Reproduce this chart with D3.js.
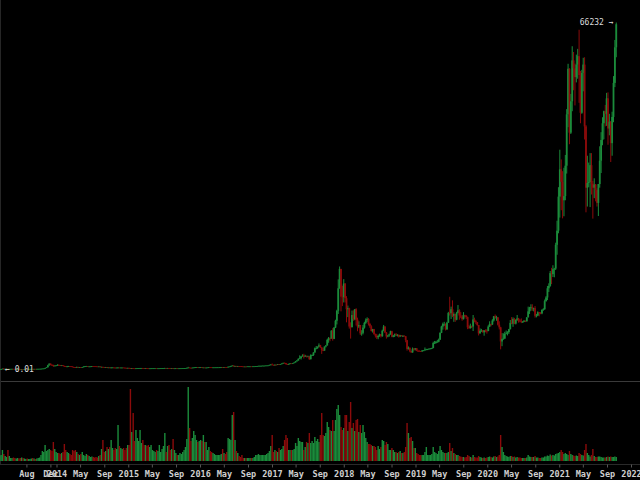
<!DOCTYPE html>
<html><head><meta charset="utf-8">
<script src="https://cdn.jsdelivr.net/npm/d3@7"></script>
<style>html,body{margin:0;padding:0;background:#000;overflow:hidden}</style>
</head><body>
<svg id="c" width="640" height="480"></svg>
<script>
// Weekly candles, first week starting Monday 2013-03-18
const firstWeek = "2013-03-18";
const opens = [
47,72,94,162,90,119,128,112,115,122,133,122,100,100,108,94,77,98,90,96,105,102,110,122,127,122,127,126,131,135,139,155,185,205,300,420,800,1120,880,870,660,740,
790,860,825,810,810,690,620,580,600,630,620,570,460,450,410,490,440,450,430,440,575,630,650,590,590,600,630,625,620,595,585,590,500,505,480,475,475,400,400,330,380,390,355,325,365,380,370,375,375,350,320,315,
315,270,210,250,230,225,235,245,275,275,280,260,250,255,235,220,225,235,240,240,240,230,232,235,245,250,270,292,275,290,285,262,265,230,230,240,230,231,235,240,245,270,285,325,380,335,325,360,395,435,440,420,
430,448,385,390,375,375,400,435,430,410,410,410,415,420,420,430,460,450,460,455,440,530,580,680,760,660,680,650,665,655,625,590,570,580,575,605,605,605,600,615,615,640,655,700,705,705,735,735,765,775,790,890,
960,900,820,920,915,1010,1000,1050,1150,1270,1230,1020,960,1080,1180,1170,1240,1350,1550,1720,2050,2200,2500,2650,2500,2600,2500,2500,1950,2750,2750,3250,4050,4080,4350,4630,4200,3700,3600,4380,4600,5650,6000,5900,7400,5850,8000,9300,11200,15500,19200,13900,
13800,16400,13600,11500,11700,8200,8100,10400,9600,11500,9500,8200,8500,6900,7000,8000,8900,9400,9650,8700,8250,7350,7700,6750,6450,6150,6400,6750,6350,7400,8200,7050,6300,6500,6700,7300,6250,6500,6700,6600,6600,6300,6500,6400,6450,6350,5600,3950,4150,3550,3250,3950,
3850,4050,3550,3540,3530,3450,3650,3650,3800,3850,3900,4000,4000,4100,5050,5070,5300,5300,5700,7000,8200,8700,8700,7650,8950,10800,10750,11500,10250,10600,9500,10800,11300,10300,10100,9600,10400,10300,10000,8050,7900,8300,8200,9550,9200,9050,8500,6900,7400,7500,7100,7500,
7400,7350,8200,8700,8600,9350,10150,9900,9950,8550,8050,5350,5850,5900,6800,6900,7150,7700,8900,8750,9650,8750,9450,9750,9350,9300,9100,9100,9300,9200,9950,11100,11700,11900,11650,11700,10250,10300,10950,10750,10700,11400,11500,13050,13750,15500,15950,18400,18200,19150,19250,23800,26500,
33000,38200,35800,32300,33100,38900,48700,57400,45200,51200,59000,57500,55800,58200,59800,56200,49000,56600,58200,46400,34700,35600,35800,39000,35500,34700,35300,34250,31800,35400,39850,43800,47000,49300,48800,51750,46000,47300,43200,48200,54700,61500
];
const highs = [
78,95,170,266,125,135,130,120,125,135,135,125,110,110,112,108,100,100,98,108,108,112,125,128,130,128,130,133,138,140,158,190,215,300,440,900,1165,1150,1010,900,760,800,
1000,1000,870,850,840,720,670,680,680,650,640,590,490,480,540,510,460,460,450,590,640,680,670,620,620,660,640,630,630,600,600,595,530,520,490,485,480,420,420,420,420,420,400,370,455,395,390,385,380,355,335,335,
320,290,275,265,245,245,265,275,300,295,300,270,265,260,240,240,245,245,245,245,245,235,240,255,255,275,315,295,300,300,290,270,270,240,245,245,235,240,245,250,272,290,335,500,390,340,370,400,470,470,445,440,
460,455,395,410,390,405,445,445,440,420,420,420,425,425,435,465,465,465,465,460,540,590,700,780,770,700,690,680,670,660,630,600,595,590,610,615,610,610,620,620,645,660,710,740,740,760,750,770,780,800,900,980,
1150,920,930,935,1015,1050,1060,1160,1290,1330,1260,1080,1100,1200,1210,1250,1355,1620,1800,2100,2700,2550,2900,3000,2800,2650,2650,2550,2900,2850,3300,4200,4480,4400,4980,4700,4300,4100,4400,4650,5850,6200,6100,7500,7900,8100,9500,11400,17200,19666,19200,16000,
17250,16500,14000,12200,11800,9000,11250,11300,11500,11700,9900,9200,8500,7500,8500,9100,9750,9950,9800,8900,8450,7750,7750,6850,6800,6550,6850,6780,7600,8500,8250,7150,6550,6850,7400,7400,6550,6850,6950,6750,6700,6600,6550,6500,6500,6400,5650,4400,4200,3600,4200,4100,
4100,4100,3750,3650,3550,3700,3700,4200,3950,3950,4000,4100,4150,5300,5450,5450,5650,5900,7100,8350,8950,9100,8800,9100,11000,13880,12000,13200,10900,10600,11000,12300,11500,10950,10350,10950,10450,10350,10100,8500,8750,8400,10400,9900,9400,9050,8500,7850,7750,7500,7500,7650,
7700,8450,9200,8750,9600,10200,10500,10250,10000,9200,8150,6950,6900,7200,7450,7300,7750,9450,10000,9950,9850,9600,10400,9850,9650,9750,9250,9450,9350,10000,12000,11950,12450,12450,11800,12100,10600,11100,10950,10950,11450,11700,13350,14000,15950,16450,18800,19400,19900,19400,24200,28400,34800,
41950,40100,37850,38500,40950,49700,58350,57500,52600,61700,60600,58400,60100,61200,64850,57000,57200,59500,59600,46650,40800,39500,41300,41300,36000,36500,35400,34600,35400,42600,45300,48150,49400,50500,52800,52900,48800,47400,49200,56000,62900,66232
];
const lows = [
0.01,70,92,50,88,115,105,100,110,118,120,98,90,95,90,70,65,88,88,93,100,100,108,118,115,120,120,124,128,118,135,150,180,200,290,400,740,800,800,500,650,720,
740,800,780,790,670,500,500,540,560,610,540,440,420,340,400,420,420,420,425,430,560,620,570,550,560,590,610,580,580,575,570,480,470,460,465,455,380,380,280,310,350,340,320,320,360,360,360,360,335,310,305,305,
265,152,200,220,210,215,230,240,265,265,240,235,240,230,215,215,220,228,230,225,225,220,225,230,240,245,260,270,270,280,255,255,195,220,225,225,225,230,234,240,240,265,275,320,300,305,310,350,390,400,400,410,
420,370,350,370,360,365,400,415,400,405,400,410,410,415,420,425,440,445,440,435,435,525,570,670,560,610,630,640,645,600,480,565,570,565,570,600,600,595,600,605,610,630,650,690,680,700,720,720,745,765,790,860,
880,750,810,880,905,980,990,1040,1140,1180,950,890,900,1060,1150,1160,1230,1340,1550,1700,2040,1900,2450,2100,2450,2300,2450,1850,1950,2600,2600,3200,3850,3950,4300,4100,2980,3500,3600,4200,4550,5100,5400,5900,5500,5800,7900,8600,10600,15400,11100,12100,
12800,12800,9000,10000,7800,5900,8000,9300,9400,8400,7300,7900,6600,6450,6700,7800,8700,9050,8400,7950,7250,7050,6650,6100,5800,5780,6250,6100,6250,7300,6950,5900,6150,6250,6650,6150,6150,6200,6400,6300,6100,6250,6350,6200,6300,5200,3600,3800,3300,3200,3200,3600,
3650,3500,3450,3480,3350,3400,3550,3600,3700,3700,3850,3950,3950,4050,4900,4950,5150,5200,5650,6950,7600,8300,7450,7600,8900,10300,9650,10000,9100,9100,9400,10700,9500,9800,9300,9550,9900,9650,7700,7750,7800,7900,7350,9000,8650,8350,6500,6850,7150,7050,6450,7100,
6850,7300,8100,8250,8500,9150,9700,9300,8400,7650,3850,4450,5700,5850,6750,6500,6800,7650,8650,8150,8650,8600,9300,8950,9000,8850,8950,9050,9050,9150,9950,10600,11200,11200,11100,9900,9950,10200,10150,10550,10550,11200,11400,12950,13250,14800,15800,16300,17650,17600,19000,21900,26000,
29000,30400,28850,29250,32300,37400,46250,43000,44950,49300,53300,50400,54800,55500,50900,47000,48800,53100,43900,30000,31100,34800,31000,33400,28800,32700,32100,31100,29300,34700,37500,42800,43950,46400,46500,42900,44700,39600,40800,47200,53900,59600
];
const closes = [
72,94,162,90,119,128,112,115,122,133,122,100,100,108,94,77,98,90,96,105,102,110,122,127,122,127,126,131,135,139,155,185,205,300,420,800,1120,880,870,660,740,790,
860,825,810,810,690,620,580,600,630,620,570,460,450,410,490,440,450,430,440,575,630,650,590,590,600,630,625,620,595,585,590,500,505,480,475,475,400,400,330,380,390,355,325,365,380,370,375,375,350,320,315,315,
270,210,250,230,225,235,245,275,275,280,260,250,255,235,220,225,235,240,240,240,230,232,235,245,250,270,292,275,290,285,262,265,230,230,240,230,231,235,240,245,270,285,325,380,335,325,360,395,435,440,420,430,
448,385,390,375,375,400,435,430,410,410,410,415,420,420,430,460,450,460,455,440,530,580,680,760,660,680,650,665,655,625,590,570,580,575,605,605,605,600,615,615,640,655,700,705,705,735,735,765,775,790,890,960,
900,820,920,915,1010,1000,1050,1150,1270,1230,1020,960,1080,1180,1170,1240,1350,1550,1720,2050,2200,2500,2650,2500,2600,2500,2500,1950,2750,2750,3250,4050,4080,4350,4630,4200,3700,3600,4380,4600,5650,6000,5900,7400,5850,8000,9300,11200,15500,19200,13900,13800,
16400,13600,11500,11700,8200,8100,10400,9600,11500,9500,8200,8500,6900,7000,8000,8900,9400,9650,8700,8250,7350,7700,6750,6450,6150,6400,6750,6350,7400,8200,7050,6300,6500,6700,7300,6250,6500,6700,6600,6600,6300,6500,6400,6450,6350,5600,3950,4150,3550,3250,3950,3850,
4050,3550,3540,3530,3450,3650,3650,3800,3850,3900,4000,4000,4100,5050,5070,5300,5300,5700,7000,8200,8700,8700,7650,8950,10800,10750,11500,10250,10600,9500,10800,11300,10300,10100,9600,10400,10300,10000,8050,7900,8300,8200,9550,9200,9050,8500,6900,7400,7500,7100,7500,7400,
7350,8200,8700,8600,9350,10150,9900,9950,8550,8050,5350,5850,5900,6800,6900,7150,7700,8900,8750,9650,8750,9450,9750,9350,9300,9100,9100,9300,9200,9950,11100,11700,11900,11650,11700,10250,10300,10950,10750,10700,11400,11500,13050,13750,15500,15950,18400,18200,19150,19250,23800,26500,33000,
38200,35800,32300,33100,38900,48700,57400,45200,51200,59000,57500,55800,58200,59800,56200,49000,56600,58200,46400,34700,35600,35800,39000,35500,34700,35300,34250,31800,35400,39850,43800,47000,49300,48800,51750,46000,47300,43200,48200,54700,61500,65900
];
const volumes = [
50,60,110,70,50,40,110,50,30,30,35,30,25,30,25,30,35,30,25,20,25,20,20,25,30,25,20,25,30,35,60,100,90,160,100,110,120,110,100,190,120,90,
80,80,70,80,90,170,110,90,80,70,60,110,100,110,90,70,60,70,90,60,50,70,60,50,40,45,40,35,40,35,50,60,120,210,90,100,140,120,140,210,130,110,130,120,360,150,130,120,130,110,130,160,
160,720,290,480,200,310,230,200,310,180,210,160,160,150,160,140,160,110,100,90,110,100,160,90,120,150,280,90,150,160,110,120,220,110,80,60,60,80,70,90,110,140,220,740,330,200,230,300,260,210,190,200,
210,200,260,190,190,110,140,100,90,80,70,60,60,60,60,70,120,80,70,90,230,220,210,460,490,210,100,80,50,40,60,30,30,30,30,30,30,30,30,40,60,60,70,60,60,60,60,60,70,80,100,150,
260,90,110,100,90,130,110,120,150,210,260,230,110,110,110,110,120,180,150,230,200,190,190,110,140,190,180,280,180,200,180,240,200,220,190,260,480,260,250,280,390,340,310,300,410,300,410,520,560,460,340,310,
330,460,460,300,390,590,330,380,300,410,420,290,360,280,360,290,230,190,170,170,160,150,150,140,110,150,120,140,210,200,160,190,170,110,110,130,110,90,90,80,90,100,80,80,90,140,380,280,230,240,200,130,
130,80,70,60,60,60,60,90,140,60,60,60,70,140,90,80,70,100,150,110,90,80,80,80,90,180,100,130,80,70,60,60,50,45,40,40,35,40,60,50,40,35,60,40,35,35,50,40,35,30,35,30,
35,40,45,40,35,45,50,40,45,60,260,140,90,60,50,45,40,50,50,40,45,35,40,35,35,30,30,30,30,35,60,45,40,40,40,50,35,35,30,30,35,35,45,45,55,50,65,55,60,55,70,75,80,
90,110,90,70,80,70,60,100,70,60,55,50,55,50,80,70,60,55,110,170,80,60,45,60,120,50,40,40,45,45,40,35,35,35,40,45,40,45,40,40,45,40
];
const tickLabelsDates = ["2013-08-01","2013-12-01","2014-01-01","2014-05-01","2014-09-01","2015-01-01","2015-05-01","2015-09-01",
  "2016-01-01","2016-05-01","2016-09-01","2017-01-01","2017-05-01","2017-09-01","2018-01-01","2018-05-01","2018-09-01",
  "2019-01-01","2019-05-01","2019-09-01","2020-01-01","2020-05-01","2020-09-01","2021-01-01","2021-05-01","2021-09-01","2022-01-01"];

const W = 640, H = 480;
const GREEN = "#1b8b3b", RED = "#8b0b0b";
const svg = d3.select("#c");
svg.append("rect").attr("width", W).attr("height", H).attr("fill", "#000");

const parse = d3.timeParse("%Y-%m-%d");
const start = parse(firstWeek);
const weeks = closes.map((_, i) => d3.timeWeek.offset(start, i));

const x = d3.scaleTime().domain([new Date(2014,0,1), new Date(2022,0,1)]).range([56.5, 631]);
const yP = d3.scaleLinear().domain([d3.min(lows), d3.max(highs)]).range([369.5, 22.5]);
const yV = d3.scaleLinear().domain([0, d3.max(volumes)]).range([461, 387]);

const data = closes.map((c, i) => ({d: weeks[i], o: opens[i], h: highs[i], l: lows[i], c: c, v: volumes[i]}));
const col = d => d.c >= d.o ? GREEN : RED;

// panel borders
svg.append("line").attr("x1",0).attr("x2",W).attr("y1",381.5).attr("y2",381.5).attr("stroke","#3a3a3a");
svg.append("line").attr("x1",0.5).attr("x2",0.5).attr("y1",0).attr("y2",464).attr("stroke","#262626");

// volume
svg.append("g").selectAll("rect").data(data).join("rect")
  .attr("x", d => x(d.d) - 0.7).attr("width", 1.4)
  .attr("y", d => yV(d.v)).attr("height", d => yV(0) - yV(d.v))
  .attr("fill", col);

// candles
const cg = svg.append("g");
cg.selectAll("line").data(data).join("line")
  .attr("x1", d => x(d.d)).attr("x2", d => x(d.d))
  .attr("y1", d => yP(d.h)).attr("y2", d => yP(d.l))
  .attr("stroke", col).attr("stroke-width", 1);
cg.selectAll("rect").data(data).join("rect")
  .attr("x", d => x(d.d) - 0.9).attr("width", 1.8)
  .attr("y", d => yP(Math.max(d.o, d.c)))
  .attr("height", d => Math.max(0.8, Math.abs(yP(d.o) - yP(d.c))))
  .attr("fill", col);

// x axis
svg.append("line").attr("x1",0).attr("x2",W).attr("y1",464.5).attr("y2",464.5).attr("stroke","#2a2a2a");
const ax = d3.axisBottom(x)
  .tickValues(tickLabelsDates.map(parse))
  .tickFormat(d => d.getMonth() === 0 ? d3.timeFormat("%Y")(d) : d3.timeFormat("%b")(d))
  .tickSize(3).tickPadding(3);
const axg = svg.append("g").attr("transform", "translate(0,464.5)").call(ax);
axg.select(".domain").remove();
axg.selectAll(".tick line").attr("stroke", "#555");
axg.selectAll(".tick text").attr("fill", "#cfcfcf")
  .style("font-family", "'DejaVu Sans Mono', monospace").style("font-size", "8.5px").style("font-weight", "bold");

// min / max labels
const lblFont = "'DejaVu Sans Mono', monospace";
svg.append("text").attr("x", 5).attr("y", yP(d3.min(lows))).attr("dy", "0.35em")
  .attr("fill", "#dcdcdc").style("font-family", lblFont).style("font-size", "8px")
  .text("\u2190 " + d3.min(lows));
svg.append("text").attr("x", 613.5).attr("y", yP(d3.max(highs))).attr("dy", "0.35em")
  .attr("text-anchor", "end")
  .attr("fill", "#dcdcdc").style("font-family", lblFont).style("font-size", "8px")
  .text(d3.max(highs) + " \u2192");
</script>
</body></html>
